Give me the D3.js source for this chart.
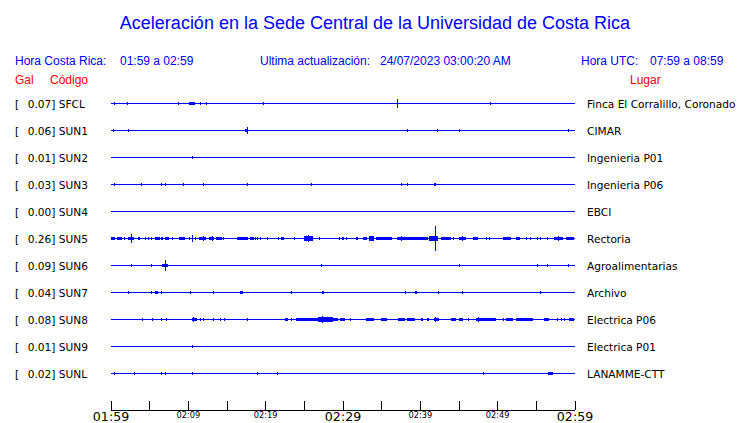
<!DOCTYPE html>
<html>
<head>
<meta charset="utf-8">
<script src="https://cdn.jsdelivr.net/npm/d3@7"></script>
<style>
  html, body { margin: 0; padding: 0; background: #fff; }
  svg { display: block; }
  text { white-space: pre; }
</style>
</head>
<body>
<svg id="chart" width="740" height="423"></svg>
<script>
// ---------------- DATA ----------------
const titleText = "Aceleración en la Sede Central de la Universidad de Costa Rica";
const localRangeLabel = "Hora Costa Rica:";
const localRange = "01:59 a 02:59";
const updateLabel = "Ultima actualización:";
const updateValue = "24/07/2023 03:00:20 AM";
const utcLabel = "Hora UTC:";
const utcRange = "07:59 a 08:59";

const codes = ["SFCL","SUN1","SUN2","SUN3","SUN4","SUN5","SUN6","SUN7","SUN8","SUN9","SUNL"];
const galValues = [0.07, 0.06, 0.01, 0.03, 0.00, 0.26, 0.09, 0.04, 0.08, 0.01, 0.02];
const places = ["Finca El Corralillo, Coronado","CIMAR","Ingenieria P01","Ingenieria P06","EBCI",
  "Rectoria","Agroalimentarias","Archivo","Electrica P06","Electrica P01","LANAMME-CTT"];

// tick minutes from 01:59 and their labels
const tickMinutes = [0,5,10,15,20,25,30,35,40,45,50,55,60];
const tickLabels  = ["01:59","","02:09","","02:19","","02:29","","02:39","","02:49","","02:59"];
const majorTicks  = ["01:59","02:29","02:59"];

// events: [start minute, end minute, half amplitude (relative units)]
const sfclEvents = [[0.4,0.4,1],[2.1,2.1,1],[8.7,8.8,1],[10.1,10.9,1.5],[11.6,11.6,1],[12.4,12.4,1],
  [19.7,19.7,1],[37.1,37.1,4.5],[49.1,49.1,0.8]];
const sun1Events = [[0.3,0.3,1],[2.3,2.3,0.8],[17.6,17.6,3.5],[17.4,17.8,1.2],[38.3,38.3,1.5],[42.2,42.2,1.2],[45.0,45.0,0.8],[59.2,59.2,0.8]];
const sun2Events = [[10.6,10.6,0.6]];
const sun3Events = [[0.4,0.4,1],[3.9,3.9,1],[6.5,6.5,1],[7.0,7.0,1],[9.4,9.4,1],[12.0,12.0,1],[17.6,17.6,1.5],
  [25.9,25.9,1],[37.5,37.5,1],[38.3,38.3,1],[41.8,42.0,1.8]];
const sun4Events = [];
const sun5Events = [[0.0,0.5,1.5],[0.8,1.4,1.5],[1.8,1.8,1],[2.2,3.0,1.5],[2.6,2.6,4.3],[3.5,3.5,1],[3.7,3.7,1],
  [4.5,4.5,1],[4.8,4.8,1],[5.2,5.2,1],[5.7,6.3,1.5],[6.5,6.5,1],[6.7,6.7,1],[7.1,7.6,1.5],[7.9,7.9,1],
  [8.9,9.7,1.5],[10.1,10.1,1],[10.6,10.6,3.5],[10.9,10.9,1],[11.5,12.4,1.5],[11.9,11.9,2.5],[12.7,13.3,1.5],
  [13.1,13.1,2.5],[13.6,14.4,1.5],[14.6,14.6,1],[16.4,17.8,1.5],[18.0,18.5,1.5],[18.7,18.7,1],[19.0,19.0,1],
  [19.3,19.3,1],[20.3,20.3,1],[21.6,21.7,1],[22.0,22.4,1.2],[23.7,23.7,1],[25.0,26.1,2],[25.5,25.5,3.5],
  [26.9,26.9,1],[29.5,29.5,1],[29.9,29.9,1],[30.1,30.1,1],[30.5,30.5,1],[31.8,31.8,1],[31.9,31.9,1],
  [32.6,33.1,1.2],[33.4,34.0,2.5],[34.3,36.2,1.5],[36.3,36.3,1],[37.1,41.1,1.7],[37.6,37.6,2.7],
  [41.2,42.3,2],[41.9,41.9,12.5],[42.7,44.0,1.2],[44.3,44.3,1],[45.0,45.9,1.5],[45.4,45.4,2.5],[46.9,47.6,1],
  [48.5,48.5,1],[49.0,49.0,1],[50.7,51.7,1],[52.4,52.9,1.2],[53.7,53.7,1],[54.2,54.2,1],[55.2,55.2,1],
  [55.6,55.6,1],[56.5,56.5,1],[57.3,58.4,1.5],[57.9,57.9,2],[58.9,59.9,1]];
const sun6Events = [[2.6,2.6,0.8],[5.2,5.2,0.8],[6.6,6.6,1],[6.8,7.4,1.5],[7.1,7.1,5],[27.2,27.2,1],[45.1,45.1,1],
  [55.2,55.2,1],[56.5,56.5,1],[59.2,59.2,0.8]];
const sun7Events = [[2.3,2.3,1],[5.2,5.2,1],[5.8,6.2,1.2],[6.5,6.5,1],[10.3,10.3,1],[13.3,13.3,1],[16.8,17.2,1.3],
  [23.3,23.3,1],[27.4,27.7,1.3],[38.1,38.1,1.3],[39.4,39.7,1],[42.3,42.3,1],[45.5,45.5,1],[55.6,55.6,1]];
const sun8Events = [[4.1,4.1,1],[5.4,5.4,1],[6.5,6.5,1],[7.2,7.2,1],[10.5,11.2,1.3],[10.7,10.7,2],[11.6,11.6,1],
  [12.0,12.0,1],[13.3,13.3,1],[14.1,14.1,1],[14.7,14.7,1],[17.6,17.6,0.8],[22.5,22.9,1.2],[23.4,23.4,1],
  [24.0,26.8,1.3],[26.8,28.7,2.2],[27.4,27.4,3.5],[28.8,29.4,1.2],[29.7,30.4,1.2],[31.0,31.0,1],[33.0,34.0,1.3],
  [35.0,35.8,1.3],[37.2,38.1,1.3],[38.4,39.4,1.3],[40.2,40.5,1],[40.9,41.2,1.2],[41.8,42.4,1.5],[42.0,42.0,2],
  [44.0,44.7,1.2],[45.1,45.6,1.2],[46.2,46.2,1],[47.2,48.6,1.5],[47.5,47.5,2],[48.7,49.9,1.2],[50.7,50.7,1],
  [51.1,52.0,1.2],[52.4,54.6,1.2],[56.0,56.6,1.2],[57.8,57.8,1],[58.2,58.2,1],[58.7,58.7,1],[59.3,60,1.5]];
const sun9Events = [[10.6,10.6,0.6]];
const sunlEvents = [[0.4,0.4,0.8],[3.0,3.0,1],[6.5,6.5,1],[7.1,7.1,1.2],[10.6,10.6,1],[18.9,18.9,0.8],
  [21.5,21.5,1],[48.2,48.2,1],[56.6,57.2,1.2]];

const eventsByStation = [sfclEvents, sun1Events, sun2Events, sun3Events, sun4Events, sun5Events,
  sun6Events, sun7Events, sun8Events, sun9Events, sunlEvents];

// ---------------- DRAW ----------------
const svg = d3.select("#chart");
const BLUE = "#0000ff", RED = "#ff0000";

svg.append("rect").attr("width", 740).attr("height", 423).attr("fill", "#fff");

svg.append("text").attr("x", 375).attr("y", 29).attr("text-anchor", "middle")
  .attr("font-family", "Liberation Sans, Arial, sans-serif").attr("font-size", 18)
  .attr("fill", BLUE).text(titleText);

const hdr = svg.append("g").attr("font-family", "Liberation Sans, Arial, sans-serif").attr("font-size", 12);
hdr.append("text").attr("x", 15).attr("y", 65).attr("fill", BLUE).text(localRangeLabel);
hdr.append("text").attr("x", 120).attr("y", 65).attr("fill", BLUE).text(localRange);
hdr.append("text").attr("x", 260).attr("y", 65).attr("fill", BLUE).text(updateLabel);
hdr.append("text").attr("x", 380).attr("y", 65).attr("fill", BLUE).text(updateValue);
hdr.append("text").attr("x", 581).attr("y", 65).attr("fill", BLUE).text(utcLabel);
hdr.append("text").attr("x", 650).attr("y", 65).attr("fill", BLUE).text(utcRange);
hdr.append("text").attr("x", 15).attr("y", 84).attr("fill", RED).text("Gal");
hdr.append("text").attr("x", 50).attr("y", 84).attr("fill", RED).text("Código");
hdr.append("text").attr("x", 630).attr("y", 84).attr("fill", RED).text("Lugar");

const x = d3.scaleLinear().domain([0, 60]).range([110.5, 574.5]);
const y = d3.scalePoint().domain(codes).range([103.5, 373.5]);

const rows = svg.append("g").selectAll("g.row").data(codes).join("g")
  .attr("class", "row").attr("transform", d => `translate(0,${y(d)})`);

const LBL = 10.6;
rows.append("text").attr("x", 15).attr("y", 4.5)
  .attr("font-family", "DejaVu Sans, sans-serif").attr("font-size", LBL).attr("fill", "#000").text("[");
rows.append("text").attr("x", 27.7).attr("y", 4.5)
  .attr("font-family", "DejaVu Sans, sans-serif").attr("font-size", LBL).attr("fill", "#000")
  .text((d, i) => `${galValues[i].toFixed(2)}] ${d}`);
rows.append("text").attr("x", 587).attr("y", 4.5)
  .attr("font-family", "DejaVu Sans, sans-serif").attr("font-size", LBL).attr("fill", "#000")
  .text((d, i) => places[i]);

rows.append("line").attr("x1", x(0)).attr("x2", x(60)).attr("y1", 0).attr("y2", 0)
  .attr("stroke", BLUE).attr("stroke-width", 1).attr("shape-rendering", "crispEdges");

rows.each(function(d, i) {
  d3.select(this).selectAll("rect.ev").data(eventsByStation[i]).join("rect")
    .attr("class", "ev")
    .attr("x", e => Math.round(x(e[0])))
    .attr("width", e => Math.max(1, Math.round(x(e[1]) - x(e[0]))))
    .attr("y", e => -Math.max(1, Math.floor(e[2])) - 0.5)
    .attr("height", e => 2 * Math.max(1, Math.floor(e[2])) + 1)
    .attr("fill", BLUE).attr("shape-rendering", "crispEdges");
});

// axis
const axisY = 409.5;
const axis = d3.axisBottom(x).tickValues(tickMinutes)
  .tickFormat((d, i) => tickLabels[i]).tickSizeInner(-9).tickSizeOuter(0).tickPadding(3);
const ag = svg.append("g").attr("transform", `translate(0,${axisY})`).call(axis);
ag.select(".domain").attr("stroke", "#000").attr("shape-rendering", "crispEdges");
ag.selectAll(".tick line").attr("stroke", "#000").attr("shape-rendering", "crispEdges");
ag.selectAll(".tick text")
  .attr("font-family", "DejaVu Sans, sans-serif")
  .attr("fill", "#000")
  .attr("dy", null)
  .attr("y", t => majorTicks.includes(tickLabels[tickMinutes.indexOf(t)]) ? 11.5 : 8.5)
  .attr("font-size", t => majorTicks.includes(tickLabels[tickMinutes.indexOf(t)]) ? 12.6 : 8.2)
  .style("dominant-baseline", "auto");
</script>
</body>
</html>
